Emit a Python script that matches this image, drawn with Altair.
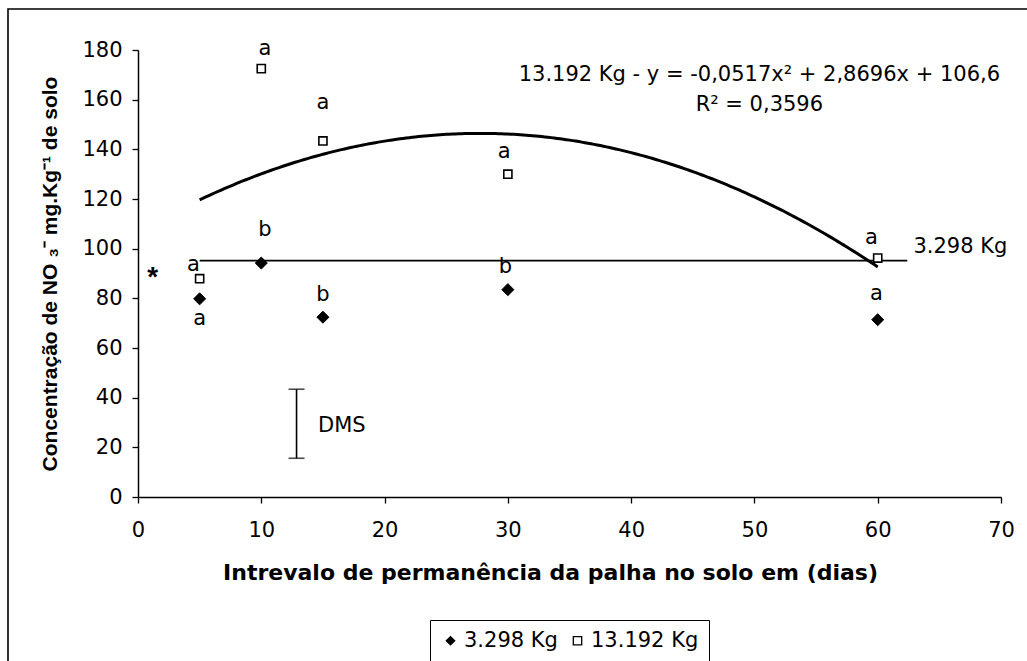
import altair as alt
import pandas as pd

# ---------------- data ----------------
days = [5, 10, 15, 30, 60]
low_dose = [79.8, 94.2, 72.4, 83.5, 71.4]        # 3.298 Kg (diamonds)
high_dose = [87.9, 172.5, 143.4, 130.0, 96.2]    # 13.192 Kg (squares)
series_names = ["3.298 Kg", "13.192 Kg"]

# trend line of 13.192 Kg: y = a x^2 + b x + c (as printed on the chart)
quad_coef = [-0.0517, 2.8696, 106.6]
curve_range = [5, 60.01]

# constant line for 3.298 Kg
hline_x = [5, 62.4]
hline_y = 95.2

# significance letters
low_letters = ["a", "b", "b", "b", "a"]
low_letter_x = [5, 10.3, 15, 29.8, 59.9]
low_letter_y = [71.6, 107.5, 81.5, 92.6, 81.8]
high_letters = ["a", "a", "a", "a", "a"]
high_letter_x = [4.5, 10.3, 15, 29.7, 59.5]
high_letter_y = [93.4, 180.5, 158.6, 138.8, 104.3]

# DMS bar
dms_x = 12.86
dms_range = [15.6, 43.4]

# annotation texts
eq_text = ["13.192 Kg - y = -0,0517x² + 2,8696x + 106,6", "R² = 0,3596"]
eq_x = [50.4, 50.4]
eq_y = [170.0, 158.0]
kg_label = "3.298 Kg"
kg_label_pos = [62.9, 100.6]
star_pos = [1.2, 88.0]
dms_label_pos = [14.6, 28.6]

x_title = "Intrevalo de permanência da palha no solo em (dias)"
y_title = "Concentração de NO ₃⁻ mg.Kg⁻¹ de solo"

FONT = "DejaVu Sans"
YFONT = "Liberation Sans"
FS = 21

# ---------------- tables ----------------
pts = pd.DataFrame({
    "dias": days * 2,
    "valor": low_dose + high_dose,
    "serie": [series_names[0]] * len(days) + [series_names[1]] * len(days),
})
letters = pd.DataFrame({
    "x": low_letter_x + high_letter_x,
    "y": low_letter_y + high_letter_y,
    "t": low_letters + high_letters,
})
hline = pd.DataFrame({"x": hline_x, "y": [hline_y] * len(hline_x)})
dms = pd.DataFrame({"x": [dms_x], "y": [dms_range[0]], "y2": [dms_range[1]]})
dms_caps = pd.DataFrame({"x": [dms_x, dms_x], "y": dms_range})
eq = pd.DataFrame({"x": eq_x, "y": eq_y, "t": eq_text})
misc = pd.DataFrame({
    "x": [kg_label_pos[0]],
    "y": [kg_label_pos[1]],
    "t": [kg_label],
})
star = pd.DataFrame({"x": [star_pos[0]], "y": [star_pos[1]], "t": ["*"]})
dms_lab = pd.DataFrame({"x": [dms_label_pos[0]], "y": [dms_label_pos[1]], "t": ["DMS"]})
frame = pd.DataFrame({"k": [0]})

xs = alt.Scale(domain=[0, 70], nice=False)
ys = alt.Scale(domain=[0, 180], nice=False)

X = alt.X("dias:Q", scale=xs,
          axis=alt.Axis(title=x_title, values=list(range(0, 71, 10)), labelFlush=False,
                        labelPadding=16, titlePadding=22, titleFont=FONT, titleFontSize=22,
                        titleX=412))
Y = alt.Y("valor:Q", scale=ys,
          axis=alt.Axis(title=y_title, values=list(range(0, 181, 20)),
                        labelPadding=10, titlePadding=21, titleFont=YFONT, titleFontSize=21))

# frame around the whole figure
frame_layer = alt.Chart(frame).mark_rect(fill=None, stroke="black", strokeWidth=1.6).encode(
    x=alt.value(-130), y=alt.value(-41), x2=alt.value(900), y2=alt.value(640)
)

pts_base = alt.Chart(pts).encode(
    x=X, y=Y,
    shape=alt.Shape("serie:N", scale=alt.Scale(domain=series_names, range=["diamond", "square"]),
                    title=None),
    fill=alt.Fill("serie:N", scale=alt.Scale(domain=series_names, range=["black", "white"]),
                  title=None),
    stroke=alt.Stroke("serie:N", scale=alt.Scale(domain=series_names, range=["black", "black"]),
                      title=None),
)
diamonds = pts_base.transform_filter(
    alt.datum.serie == series_names[0]
).mark_point(filled=True, opacity=1, strokeWidth=1, size=145)
squares = pts_base.transform_filter(
    alt.datum.serie == series_names[1]
).mark_point(filled=True, opacity=1, strokeWidth=1.6, size=66)

curve = alt.Chart(
    alt.sequence(curve_range[0], curve_range[1], 0.25, as_="dias")
).transform_calculate(
    valor="%f*datum.dias*datum.dias + %f*datum.dias + %f" % tuple(quad_coef)
).mark_line(color="black", strokeWidth=3).encode(
    x=alt.X("dias:Q", scale=xs), y=alt.Y("valor:Q", scale=ys)
)

hline_layer = alt.Chart(hline).mark_line(color="black", strokeWidth=1.6).encode(
    x=alt.X("x:Q", scale=xs), y=alt.Y("y:Q", scale=ys)
)

letters_layer = alt.Chart(letters).mark_text(
    font=FONT, fontSize=FS, color="black", baseline="middle", align="center"
).encode(x=alt.X("x:Q", scale=xs), y=alt.Y("y:Q", scale=ys), text="t:N")

dms_rule = alt.Chart(dms).mark_rule(color="black", strokeWidth=1.6).encode(
    x=alt.X("x:Q", scale=xs), y=alt.Y("y:Q", scale=ys), y2="y2:Q"
)
dms_cap = alt.Chart(dms_caps).mark_tick(orient="horizontal", color="black", size=16, thickness=1.6).encode(
    x=alt.X("x:Q", scale=xs), y=alt.Y("y:Q", scale=ys)
)
dms_text = alt.Chart(dms_lab).mark_text(
    font=FONT, fontSize=FS, color="black", baseline="middle", align="left"
).encode(x=alt.X("x:Q", scale=xs), y=alt.Y("y:Q", scale=ys), text="t:N")

eq_layer = alt.Chart(eq).mark_text(
    font=FONT, fontSize=FS, color="black", baseline="middle", align="center"
).encode(x=alt.X("x:Q", scale=xs), y=alt.Y("y:Q", scale=ys), text="t:N")

kg_layer = alt.Chart(misc).mark_text(
    font=FONT, fontSize=FS, color="black", baseline="middle", align="left"
).encode(x=alt.X("x:Q", scale=xs), y=alt.Y("y:Q", scale=ys), text="t:N")

star_layer = alt.Chart(star).mark_text(
    font=YFONT, fontSize=28, fontWeight="bold", color="black", baseline="middle", align="center"
).encode(x=alt.X("x:Q", scale=xs), y=alt.Y("y:Q", scale=ys), text="t:N")

chart = alt.layer(
    frame_layer, hline_layer, curve, diamonds, squares, letters_layer, dms_rule, dms_cap, dms_text,
    eq_layer, kg_layer, star_layer
).properties(
    width=863, height=447,
    autosize=alt.AutoSizeParams(type="none"),
    padding={"left": 138, "top": 50, "right": 26, "bottom": 164},
    background="white",
).configure_view(stroke=None).configure_axis(
    grid=False, domainColor="black", domainWidth=1.5, tickColor="black", tickWidth=1.3,
    tickSize=6, labelColor="black", titleColor="black", labelFont=FONT,
    labelFontSize=FS, titleFontWeight="bold",
).configure_legend(
    orient="none", legendX=292, legendY=570, direction="horizontal",
    strokeColor="black", fillColor="white", padding=10, labelFont=FONT, labelFontSize=21,
    labelColor="black", symbolStrokeWidth=1.3, columnPadding=9, labelOffset=3,
    symbolSize=70,
)

chart.save("out.html", embed_options={"renderer": "svg", "actions": False})
